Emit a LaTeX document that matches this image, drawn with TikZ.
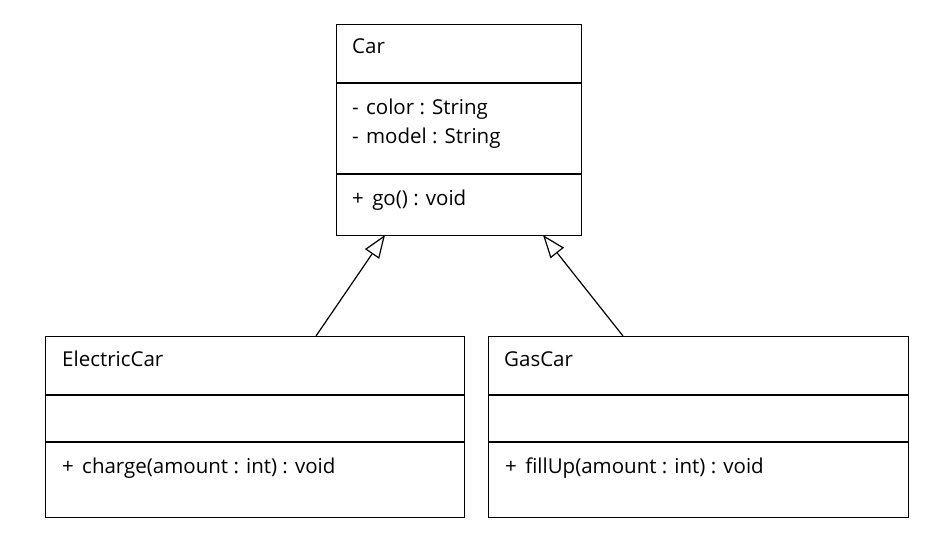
\documentclass[tikz,border=0pt]{standalone}
\usepackage{fontspec}
\setmainfont{Open Sans}
\usetikzlibrary{arrows.meta}
\begin{document}
\begin{tikzpicture}[x=1pt,y=-1pt,
  classbox/.style={draw=black,line width=1.2pt,rectangle,inner sep=0pt,anchor=north west},
  divider/.style={draw=black,line width=1.2pt},
  txt/.style={anchor=base west,inner sep=0pt,font=\fontsize{20.5}{24}\selectfont},
  inherit/.style={draw=black,line width=1.2pt,-{Triangle[open,length=23pt,width=17pt,line width=1.2pt]}}]
\useasboundingbox (0,0) rectangle (942,537);
\fill[white] (0,0) rectangle (942,537);
% Car
\node[classbox,minimum width=245pt,minimum height=211pt] (car) at (336,24) {};
\draw[divider] (336,83) -- (581,83);
\draw[divider] (336,174) -- (581,174);
\node[txt] (carname) at (352,54) {Car};
\node[txt] (carattr1) at (352,115) {-\hspace{2pt} color : String};
\node[txt] (carattr2) at (352,144) {-\hspace{2pt} model : String};
\node[txt] (carop) at (352,206) {+\hspace{3pt} go() : void};
% ElectricCar
\node[classbox,minimum width=419pt,minimum height=181pt] (ec) at (45,336) {};
\draw[divider] (45,395) -- (464,395);
\draw[divider] (45,442) -- (464,442);
\node[txt] (ecname) at (62,366) {ElectricCar};
\node[txt] (ecop) at (62,473) {+\hspace{3pt} charge(amount : int) : void};
% GasCar
\node[classbox,minimum width=420pt,minimum height=181pt] (gc) at (488,336) {};
\draw[divider] (488,395) -- (908,395);
\draw[divider] (488,442) -- (908,442);
\node[txt] (gcname) at (504,366) {GasCar};
\node[txt] (gcop) at (505,473) {+\hspace{3pt} fillUp(amount : int) : void};
% connectors
\coordinate (ecTop) at (316,336);
\coordinate (carL) at (385,235);
\coordinate (gcTop) at (623,336);
\coordinate (carR) at (543,235);
\draw[inherit] (ecTop) -- (carL);
\draw[inherit] (gcTop) -- (carR);
\end{tikzpicture}
\end{document}
